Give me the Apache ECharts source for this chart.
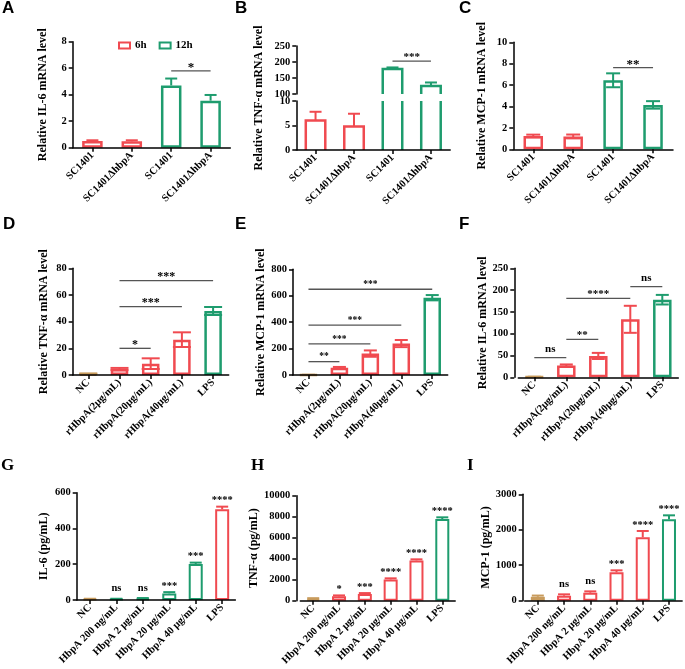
<!DOCTYPE html>
<html><head><meta charset="utf-8">
<script src="https://cdn.jsdelivr.net/npm/echarts@6/dist/echarts.min.js"></script>
<style>html,body{margin:0;padding:0;background:#fff}#main{width:685px;height:669px}</style>
</head><body><div id="main"></div>
<script>
// ---------------- data ----------------
const catsAC = ['SC1401', 'SC1401ΔhbpA', 'SC1401', 'SC1401ΔhbpA'];
const groupsAC = ['6h', '6h', '12h', '12h'];
const il6A = [0.50, 0.48, 4.70, 3.55];
const il6AErr = [0.06, 0.08, 0.52, 0.43];
const tnfB = [6.0, 4.8, 178, 125];
const tnfBErr = [1.8, 2.6, 5, 11];
const mcpC = [1.25, 1.20, 6.45, 4.15];
const mcpCErr = [0.12, 0.18, 0.65, 0.35];

const catsDF = ['NC', 'rHbpA(2μg/mL)', 'rHbpA(20μg/mL)', 'rHbpA(40μg/mL)', 'LPS'];
const tnfD = [0.9, 4.5, 8.5, 26.5, 48.0];
const tnfDErr = [0.3, 0.8, 4.0, 5.5, 3.0];
const mcpE = [1, 55, 162, 238, 585];
const mcpEErr = [0.5, 6, 24, 27, 20];
const il6F = [1, 27, 49, 133, 178];
const il6FErr = [0.3, 2.5, 7, 31, 11];

const catsGI = ['NC', 'HbpA 200 ng/mL', 'HbpA 2 μg/mL', 'HbpA 20 μg/mL', 'HbpA 40 μg/mL', 'LPS'];
const il6G = [5, 5, 8, 37, 201, 507];
const il6GErr = [2, 2, 3, 7, 8, 15];
const tnfH = [180, 413, 635, 2030, 3840, 7780];
const tnfHErr = [60, 90, 90, 100, 100, 160];
const mcpI = [110, 141, 226, 799, 1787, 2295];
const mcpIErr = [35, 38, 37, 57, 179, 112];
const markG = ['', 'ns', 'ns', '***', '***', '****'];
const markH = ['', '*', '***', '****', '****', '****'];
const markI = ['', 'ns', 'ns', '***', '****', '****'];

// significance brackets: [fromCategory, toCategory, yValue]
const sigA = [[2, 3, 5.8]];            const sigATxt = ['*'];
const sigB = [[2, 3, 203]];            const sigBTxt = ['***'];
const sigC = [[2, 3, 7.63]];           const sigCTxt = ['**'];
const sigD = [[1, 2, 20], [1, 3, 51.25], [1, 4, 70.75]];  const sigDTxt = ['*', '***', '***'];
const sigE = [[0, 1, 101], [0, 2, 235], [0, 3, 378], [0, 4, 649]]; const sigETxt = ['**', '***', '***', '***'];
const sigF = [[0, 1, 45], [1, 2, 87], [1, 3, 181], [3, 4, 208]];   const sigFTxt = ['ns', '**', '****', 'ns'];

// tick labels
const ticksA = [0, 2, 4, 6, 8];
const ticksBTop = [100, 150, 200, 250];
const ticksBBot = [0, 5, 10];
const ticksC = [0, 2, 4, 6, 8, 10];
const ticksD = [0, 20, 40, 60, 80];
const ticksE = [0, 200, 400, 600, 800];
const ticksF = [0, 50, 100, 150, 200, 250];
const ticksG = [0, 200, 400, 600];
const ticksH = [0, 2000, 4000, 6000, 8000, 10000];
const ticksI = [0, 1000, 2000, 3000];

// ---------------- styles / layout ----------------
const SERIF = '"Liberation Serif","Times New Roman",serif';
const SANS = '"Liberation Sans",Arial,sans-serif';
const RED = '#F04A50', GREEN = '#1E9C6E', TAN = '#C89B5C', LINE = '#555';
const grid = [], xAxis = [], yAxis = [], series = [], graphic = [];

function addAxes(g, cats, ticks, o) {
  const gi = grid.length;
  grid.push({left: g[0], top: g[1], width: g[2], height: g[3], containLabel: false, outerBoundsMode: 'none'});
  xAxis.push({
    type: 'category', gridIndex: gi, data: cats, show: o.showX !== false, z: 5,
    axisLine: {show: true, lineStyle: {color: '#000', width: 1.5}},
    axisTick: {show: true, alignWithLabel: true, length: 4, lineStyle: {color: '#000', width: 1.5}},
    axisLabel: {rotate: 45, margin: 6, interval: 0, fontFamily: SERIF, fontWeight: 'bold', fontSize: o.xfs || 10.5, color: '#000'},
    splitLine: {show: false}
  });
  yAxis.push({
    type: 'value', gridIndex: gi, min: ticks[0], max: ticks[ticks.length - 1], interval: ticks[1] - ticks[0],
    offset: o.offset || 0, z: 5,
    name: o.name || '', nameLocation: 'middle', nameGap: o.nameGap || 25,
    nameTextStyle: {fontFamily: SERIF, fontWeight: 'bold', fontSize: 12, color: '#000'},
    axisLine: {show: true, lineStyle: {color: '#000', width: 1.5}},
    axisTick: {show: true, length: 4, lineStyle: {color: '#000', width: 1.5}},
    axisLabel: {margin: 6, fontFamily: SERIF, fontWeight: 'bold', fontSize: 10.5, color: '#000', formatter: v => String(v)},
    splitLine: {show: false}
  });
  return gi;
}

function addBars(gi, vals, colors, bw, lw, name, keep) {
  series.push({
    type: 'bar', name: name, xAxisIndex: gi, yAxisIndex: gi, barWidth: bw, barGap: '-100%', z: 2, silent: true,
    itemStyle: {color: '#fff', borderColor: colors[0], borderWidth: lw},
    data: vals.map((v, i) => (keep && !keep(i)) ? '-' : {value: v, itemStyle: {color: '#fff', borderColor: colors[i], borderWidth: lw}})
  });
}

function addOutlineBars(gi, vals, colors, bw, lw) {
  series.push({
    type: 'custom', xAxisIndex: gi, yAxisIndex: gi, z: 2, silent: true,
    data: vals.map((v, i) => [i, v]), encode: {x: 0, y: 1},
    renderItem: (params, api) => {
      const cs = params.coordSys, top = cs.y, bot = cs.y + cs.height;
      const p = api.coord([api.value(0), api.value(1)]);
      if (p[1] >= bot) return null;
      const x = p[0], hw = bw / 2, c = colors[params.dataIndex];
      const st = {stroke: c, fill: null, lineWidth: lw};
      if (p[1] < top) {
        return {type: 'group', children: [
          {type: 'line', shape: {x1: x - hw, y1: bot, x2: x - hw, y2: top}, style: st},
          {type: 'line', shape: {x1: x + hw, y1: bot, x2: x + hw, y2: top}, style: st}
        ]};
      }
      return {type: 'polyline', shape: {points: [[x - hw, bot], [x - hw, p[1]], [x + hw, p[1]], [x + hw, bot]]}, style: st};
    }
  });
}

function addErr(gi, vals, errs, colors, o) {
  series.push({
    type: 'custom', xAxisIndex: gi, yAxisIndex: gi, z: 3, silent: true, clip: !!o.clip,
    data: vals.map((v, i) => [i, v, errs[i]]), encode: {x: 0, y: 1},
    renderItem: (params, api) => {
      const i = api.value(0), v = api.value(1), e = api.value(2);
      const t = api.coord([i, v + e]), m = api.coord([i, o.both ? v - e : v]);
      const hw = o.cap / 2, c = colors[params.dataIndex];
      const st = {stroke: c, lineWidth: o.lw || 2};
      const ch = [
        {type: 'line', shape: {x1: t[0], y1: t[1], x2: m[0], y2: m[1]}, style: st},
        {type: 'line', shape: {x1: t[0] - hw, y1: t[1], x2: t[0] + hw, y2: t[1]}, style: st}
      ];
      if (o.both) ch.push({type: 'line', shape: {x1: m[0] - hw, y1: m[1], x2: m[0] + hw, y2: m[1]}, style: st});
      const lab = o.labels && o.labels[params.dataIndex];
      if (lab) {
        const fs = o.fs || 10;
        const ty = t[1] + (lab === 'ns' ? 0.43 : 0.81) * fs - 9;
        ch.push({type: 'text', x: t[0], y: ty, style: {text: lab, fontFamily: SERIF, fontWeight: 'bold', fontSize: fs, fill: '#000', align: 'center', verticalAlign: 'bottom'}});
      }
      return {type: 'group', children: ch};
    }
  });
}

function addSig(gi, rows, texts, fs) {
  series.push({
    type: 'custom', xAxisIndex: gi, yAxisIndex: gi, z: 4, silent: true,
    data: rows, encode: {x: [0, 1], y: 2},
    renderItem: (params, api) => {
      const a = api.coord([api.value(0), api.value(2)]), b = api.coord([api.value(1), api.value(2)]);
      const txt = texts[params.dataIndex];
      const ty = a[1] + (txt === 'ns' ? 0.43 : 0.81) * fs - 7.5;
      return {type: 'group', children: [
        {type: 'line', shape: {x1: a[0], y1: a[1], x2: b[0], y2: b[1]}, style: {stroke: LINE, lineWidth: 1.3}},
        {type: 'text', x: (a[0] + b[0]) / 2, y: ty, style: {text: txt, fontFamily: SERIF, fontWeight: 'bold', fontSize: fs, fill: '#000', align: 'center', verticalAlign: 'bottom'}}
      ]};
    }
  });
}

const colAC = groupsAC.map(g => g === '6h' ? RED : GREEN);
const colDF = [TAN, RED, RED, RED, GREEN];
const colG = [TAN, GREEN, GREEN, GREEN, GREEN, RED];
const colHI = [TAN, RED, RED, RED, RED, GREEN];

// ---- Panel A ----
let g = addAxes([72.7, 41.7, 157.6, 106], catsAC, ticksA, {name: 'Relative IL-6 mRNA level', nameGap: 24});
addBars(g, il6A, colAC, 20.5, 2.5, '6h', i => groupsAC[i] === '6h');
addBars(g, il6A, colAC, 20.5, 2.5, '12h', i => groupsAC[i] === '12h');
addErr(g, il6A, il6AErr, colAC, {cap: 12});
addSig(g, sigA, sigATxt, 13);

// ---- Panel B (broken axis) ----
const gBt = addAxes([296.3, 46, 153.9, 48], catsAC, ticksBTop, {showX: false});
const gBb = addAxes([296.3, 101, 153.9, 49], catsAC, ticksBBot, {});
const gBn = grid.length;
grid.push({left: 296.3, top: 46, width: 153.9, height: 104, outerBoundsMode: 'none'});
xAxis.push({type: 'category', gridIndex: gBn, data: catsAC, show: false});
yAxis.push({type: 'value', gridIndex: gBn, min: 0, max: 1, name: 'Relative TNF-α mRNA level', nameLocation: 'middle', nameGap: 31,
  nameTextStyle: {fontFamily: SERIF, fontWeight: 'bold', fontSize: 12, color: '#000'},
  axisLine: {show: false}, axisTick: {show: false}, axisLabel: {show: false}, splitLine: {show: false}});
addOutlineBars(gBt, tnfB, colAC, 19.5, 2.5);
addOutlineBars(gBb, tnfB, colAC, 19.5, 2.5);
addErr(gBt, tnfB, tnfBErr, colAC, {cap: 12, clip: true});
addErr(gBb, tnfB, tnfBErr, colAC, {cap: 12, clip: true});
addSig(gBt, sigB, sigBTxt, 11);

// ---- Panel C ----
g = addAxes([513.3, 42.3, 159.7, 107], catsAC, ticksC, {name: 'Relative MCP-1 mRNA level', nameGap: 25});
addBars(g, mcpC, colAC, 19.5, 2.5, 'C');
addErr(g, mcpC, mcpCErr, colAC, {cap: 14, both: true});
addSig(g, sigC, sigCTxt, 13);

// ---- Panel D ----
g = addAxes([72.7, 268.3, 156, 106.7], catsDF, ticksD, {name: 'Relative TNF-α mRNA level', nameGap: 22.7});
addBars(g, tnfD, colDF, 17.5, 2.5, 'D');
addErr(g, tnfD, tnfDErr, colDF, {cap: 18, both: true});
addSig(g, sigD, sigDTxt, 12);

// ---- Panel E ----
g = addAxes([293, 269.3, 154.7, 105.7], catsDF, ticksE, {name: 'Relative MCP-1 mRNA level', nameGap: 23.3});
addBars(g, mcpE, colDF, 17.5, 2.5, 'E');
addErr(g, mcpE, mcpEErr, colDF, {cap: 13, both: true});
addSig(g, sigE, sigETxt, 9.5);

// ---- Panel F ----
g = addAxes([518.3, 268.3, 160, 109], catsDF, ticksF, {name: 'Relative IL-6 mRNA level', nameGap: 22.6, offset: 4});
addBars(g, il6F, colDF, 18.5, 2.5, 'F');
addErr(g, il6F, il6FErr, colDF, {cap: 13, both: true});
addSig(g, sigF, sigFTxt, 11);

// ---- Panel G ----
g = addAxes([76.7, 492.7, 158.7, 107.3], catsGI, ticksG, {name: 'IL-6 (pg/mL)', nameGap: 26.7});
addBars(g, il6G, colG, 14, 2, 'G');
addErr(g, il6G, il6GErr, colG, {cap: 12, labels: markG, fs: 10.5});

// ---- Panel H ----
g = addAxes([300.3, 495.7, 154.9, 105], catsGI, ticksH, {name: 'TNF-α (pg/mL)', nameGap: 30.6, offset: 4});
addBars(g, tnfH, colHI, 14, 2, 'H');
addErr(g, tnfH, tnfHErr, colHI, {cap: 12, labels: markH, fs: 10.5});

// ---- Panel I ----
g = addAxes([524.7, 494.3, 157.4, 106.4], catsGI, ticksI, {name: 'MCP-1 (pg/mL)', nameGap: 29.4, offset: 2});
addBars(g, mcpI, colHI, 14, 2, 'I');
addErr(g, mcpI, mcpIErr, colHI, {cap: 12, labels: markI, fs: 10.5});

// panel letters
const letters = [['A', 2, 9, SANS], ['B', 235, 9, SANS], ['C', 459, 9, SANS],
                 ['D', 3, 225, SANS], ['E', 235, 225, SANS], ['F', 459, 225, SANS],
                 ['G', 1, 466, SERIF], ['H', 251, 466, SERIF], ['I', 467, 466, SERIF]];
letters.forEach(l => graphic.push({type: 'text', left: l[1], top: l[2] - 9, z: 10,
  style: {text: l[0], fontFamily: l[3], fontWeight: 'bold', fontSize: 17, fill: '#000'}}));

const chart = echarts.init(document.getElementById('main'), null, {renderer: 'canvas'});
chart.setOption({
  backgroundColor: '#fff',
  animation: false,
  grid, xAxis, yAxis, series, graphic,
  legend: {
    left: 113, top: 35, icon: 'rect', itemWidth: 11, itemHeight: 6, itemGap: 12, selectedMode: false,
    textStyle: {fontFamily: SERIF, fontWeight: 'bold', fontSize: 11, color: '#000'},
    data: [
      {name: '6h', itemStyle: {color: '#fff', borderColor: RED, borderWidth: 2}},
      {name: '12h', itemStyle: {color: '#fff', borderColor: GREEN, borderWidth: 2}}
    ]
  }
});
</script>
</body></html>
